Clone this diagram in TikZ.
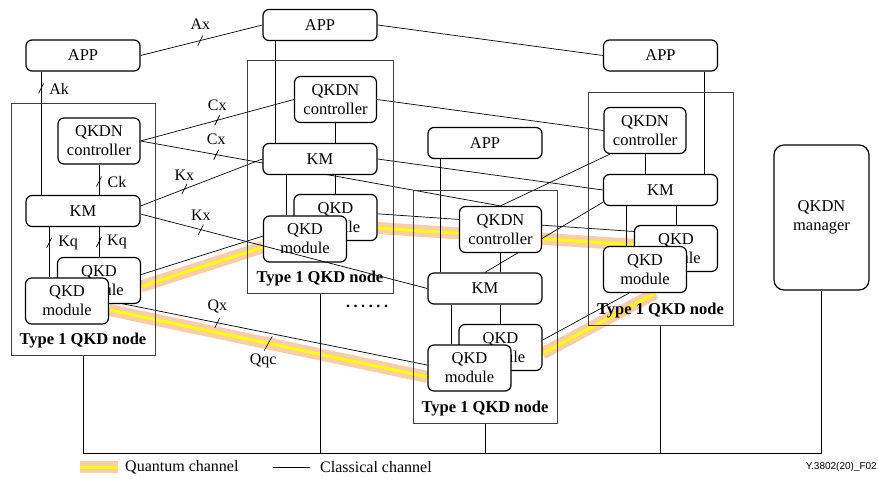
\documentclass[tikz,border=0pt]{standalone}
\usepackage{fontspec}
\setmainfont{Liberation Serif}
\newfontfamily\figfont{Liberation Sans}
\usetikzlibrary{positioning, backgrounds}

\definecolor{qpeach}{RGB}{249,205,170}
\definecolor{qyellow}{RGB}{255,255,0}

\tikzstyle{unit} = [rectangle, rounded corners=6pt, draw=black, line width=1.2pt, fill=white, align=center, inner sep=1pt, font=\fontsize{16.5}{19}\selectfont]
\tikzstyle{app} = [unit, minimum width=114pt, minimum height=31pt]
\tikzstyle{km} = [app]
\tikzstyle{ctrl} = [unit, minimum width=82pt, minimum height=46pt]
\tikzstyle{qkd} = [ctrl, minimum width=83pt]
\tikzstyle{nodebox} = [rectangle, draw=black!75, line width=0.8pt, inner sep=0pt]
\tikzstyle{nodetitle} = [font=\fontsize{16.5}{19}\selectfont\bfseries, inner sep=0pt]
\tikzstyle{lbl} = [font=\fontsize{16}{18}\selectfont, inner sep=0pt, text=black]
\tikzstyle{classical} = [line width=0.7pt]
\tikzstyle{quantum} = [line width=3pt, qyellow, preaction={draw=qpeach, line width=12pt}]

% small slash across an interface line
\newcommand{\tickat}[1]{\draw[classical] (#1) +(-2.5pt,-5pt) -- +(2.5pt,5pt);}

\begin{document}
\begin{tikzpicture}[x=1pt, y=-1pt]
\useasboundingbox (0,0) rectangle (878,479);

% Type 1 QKD node A
\node (boxA) [nodebox, minimum width=144pt, minimum height=252pt] at (83,229) {};
\node (appA) [app] at (83,55.5) {APP};
\node (ctrlA) [ctrl] at (99,141) {QKDN\\controller};
\node (kmA) [km] at (83,211) {KM};
\node (qbA) [qkd] at (99,280.5) {QKD\\module};
\node (qfA) [qkd] at (67,301) {QKD\\module};
\node (titleA) [nodetitle, above=7pt of boxA.south] {Type 1 QKD node};

% Type 1 QKD node B
\node (boxB) [nodebox, minimum width=146pt, minimum height=233pt] at (320,176.5) {};
\node (appB) [app] at (320,25) {APP};
\node (ctrlB) [ctrl] at (335.5,99.5) {QKDN\\controller};
\node (kmB) [km] at (320,159) {KM};
\node (qbB) [qkd] at (335.5,217.5) {QKD\\module};
\node (qfB) [qkd] at (305,239) {QKD\\module};
\node (titleB) [nodetitle, above=7pt of boxB.south] {Type 1 QKD node};

% Type 1 QKD node C
\node (boxC) [nodebox, minimum width=144pt, minimum height=233pt] at (485,306.5) {};
\node (appC) [app] at (485,143) {APP};
\node (ctrlC) [ctrl] at (500.5,229.5) {QKDN\\controller};
\node (kmC) [km] at (485,288.5) {KM};
\node (qbC) [qkd] at (500.5,347.5) {QKD\\module};
\node (qfC) [qkd] at (469.5,368) {QKD\\module};
\node (titleC) [nodetitle, above=7pt of boxC.south] {Type 1 QKD node};

% Type 1 QKD node D
\node (boxD) [nodebox, minimum width=145pt, minimum height=233pt] at (660.5,208.5) {};
\node (appD) [app] at (660.5,55.5) {APP};
\node (ctrlD) [ctrl] at (645,130.5) {QKDN\\controller};
\node (kmD) [km] at (660.5,190) {KM};
\node (qbD) [qkd] at (676,248.5) {QKD\\module};
\node (qfD) [qkd] at (645,269.5) {QKD\\module};
\node (titleD) [nodetitle, above=7pt of boxD.south] {Type 1 QKD node};

\node (mgr) [unit, rounded corners=10pt, minimum width=95pt, minimum height=145pt] at (821.5,217.5) {QKDN\\manager};
\node (more) [lbl, font=\fontsize{16}{18}\selectfont\bfseries] at (367,306) {.\kern3.6pt.\kern3.6pt.\kern3.6pt.\kern3.6pt.\kern3.6pt.};
\coordinate (bus) at (0,453);

\begin{scope}[on background layer]
% quantum channels
\draw [quantum] (qbA.-8) -- (qfB.191);
\draw [quantum] (qfA.-12) -- coordinate[pos=.5] (tQqc) node[lbl, pos=.5, xshift=-5pt, yshift=-17pt] (lQqc) {Qqc} (qfC.192);
\draw [quantum] (qbB.-14) -- (qbD.175);
\draw [quantum] (qbC.-8) -- (qfD.294);

% classical channels between nodes
\draw [classical] (appA.east) -- coordinate[pos=.49] (tAx) node[lbl, pos=.49, yshift=16pt] (lAx) {Ax} (appB.west);
\draw [classical] (appB.east) -- (appD.west);
\draw [classical] (ctrlA.east) -- coordinate[pos=.5] (tCx1) node[lbl, pos=.5, yshift=15pt] (lCx1) {Cx} (ctrlB.west);
\draw [classical] (ctrlA.east) -- coordinate[pos=.21] (tCx2) node[lbl, pos=.21, yshift=15pt] (lCx2) {Cx} (ctrlC.north);
\draw [classical] (kmA.5) -- coordinate[pos=.36] (tKx1) node[lbl, pos=.36, yshift=14pt] (lKx1) {Kx} (kmB.west);
\draw [classical] (qbA.8) -- (qfB.176);
\draw [classical] (qfA.east) -- coordinate[pos=.34] (tQx) node[lbl, pos=.34, yshift=16pt] (lQx) {Qx} (qfC.176);
\draw [classical] (ctrlB.east) -- (ctrlD.west);
\draw [classical] (kmB.east) -- (kmD.west);
\draw [classical] (qbB.5) -- (qbD.158);
\draw [classical] (ctrlD.214) -- (ctrlC.north);
\draw [classical] (kmD.192) -- (kmC.north);
\draw [classical] (qbC.10) -- (qfD.236);

% inside node A
\draw [classical] (appA.201) -- coordinate[pos=.137] (tAk) node[lbl, pos=.137, xshift=18pt] (lAk) {Ak} (appA.201 |- kmA.north);
\draw [classical] (ctrlA.south) -- coordinate[pos=.56] (tCk) node[lbl, pos=.56, xshift=18pt] (lCk) {Ck} (ctrlA.south |- kmA.north);
\draw [classical] (qfA.127 |- kmA.south) -- coordinate[pos=.31] (tKq1) node[lbl, pos=.31, xshift=19pt] (lKq1) {Kq} (qfA.127);
\draw [classical] (kmA.south -| qbA.north) -- coordinate[pos=.5] (tKq2) node[lbl, pos=.5, xshift=18pt] (lKq2) {Kq} (qbA.north);

% inside node B
\draw [classical] (appB.200) -- (appB.200 |- kmB.north);
\draw [classical] (ctrlB.south) -- (ctrlB.south |- kmB.north);
\draw [classical] (kmB.south -| qbB.north) -- (qbB.north);
\draw [classical] (qfB.128 |- kmB.south) -- (qfB.128);

% inside node C
\draw [classical] (appC.200) -- (appC.200 |- kmC.north);
\draw [classical] (ctrlC.south) -- (ctrlC.south |- kmC.north);
\draw [classical] (kmC.south -| qbC.north) -- (qbC.north);
\draw [classical] (qfC.127 |- kmC.south) -- (qfC.127);

% inside node D
\draw [classical] (appD.-20) -- (appD.-20 |- kmD.north);
\draw [classical] (ctrlD.south) -- (ctrlD.south |- kmD.north);
\draw [classical] (kmD.south -| qbD.north) -- (qbD.north);
\draw [classical] (qfD.129 |- kmD.south) -- (qfD.129);

% management bus
\draw [classical] (boxA.south) -- (boxA.south |- bus) -- (mgr.south |- bus) -- (mgr.south);
\draw [classical] (boxB.south) -- (boxB.south |- bus);
\draw [classical] (boxC.south) -- (boxC.south |- bus);
\draw [classical] (boxD.south) -- (boxD.south |- bus);
\end{scope}

\draw [classical] (kmA.-3) -- coordinate[pos=.21] (tKx2) node[lbl, pos=.21, yshift=14pt] (lKx2) {Kx} (kmC.west);

\tickat{tAx} \tickat{tCx1} \tickat{tCx2} \tickat{tKx1} \tickat{tKx2}
\tickat{tQx} \tickat{tAk} \tickat{tCk} \tickat{tKq1} \tickat{tKq2}
\draw [classical] (tQqc) +(-4pt,-7pt) -- +(4pt,7pt);

% legend
\coordinate (lq1) at (80,467);
\coordinate (lq2) at (118,467);
\draw [quantum] (lq1) -- (lq2);
\node (lgQ) [lbl, anchor=west] at (125,467) {Quantum channel};
\coordinate (lc1) at (273,467);
\coordinate (lc2) at (310,467);
\draw [classical] (lc1) -- (lc2);
\node (lgC) [lbl, anchor=west] at (320,467) {Classical channel};
\node (figno) [anchor=east, inner sep=0pt, font=\figfont\fontsize{10}{12}\selectfont] at (877,467) {Y.3802(20)\_F02};

\end{tikzpicture}
\end{document}
